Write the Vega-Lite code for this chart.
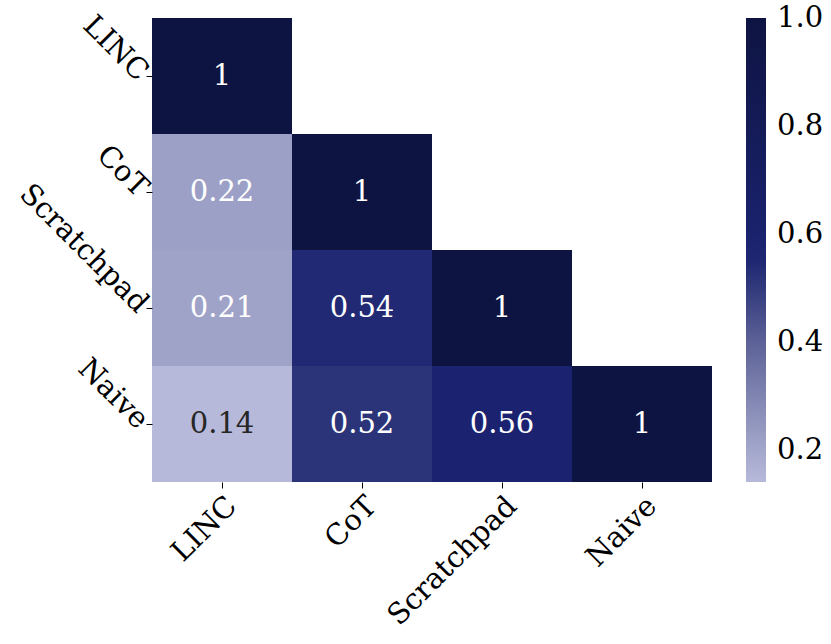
{
  "$schema": "https://vega.github.io/schema/vega-lite/v6.json",
  "width": 560,
  "height": 464,
  "autosize": "none",
  "padding": {"left": 152, "top": 18, "right": 119, "bottom": 162},
  "background": "white",
  "config": {
    "view": {"stroke": null},
    "font": "DejaVu Serif"
  },
  "data": {
    "values": [
      {"row": "LINC", "col": "LINC", "value": 1.0},
      {"row": "CoT", "col": "LINC", "value": 0.22},
      {"row": "CoT", "col": "CoT", "value": 1.0},
      {"row": "Scratchpad", "col": "LINC", "value": 0.21},
      {"row": "Scratchpad", "col": "CoT", "value": 0.544},
      {"row": "Scratchpad", "col": "Scratchpad", "value": 1.0},
      {"row": "Naive", "col": "LINC", "value": 0.14},
      {"row": "Naive", "col": "CoT", "value": 0.516},
      {"row": "Naive", "col": "Scratchpad", "value": 0.56},
      {"row": "Naive", "col": "Naive", "value": 1.0}
    ]
  },
  "encoding": {
    "x": {
      "field": "col", "type": "nominal",
      "sort": ["LINC", "CoT", "Scratchpad", "Naive"],
      "scale": {"paddingInner": 0, "paddingOuter": 0},
      "axis": {
        "title": null, "domain": false, "tickSize": 6, "tickColor": "#000",
        "labelFontSize": 29, "labelColor": "#000", "labelAngle": -45,
        "labelAlign": "right", "labelBaseline": "top", "labelPadding": 3, "labelFont": "DejaVu Serif"
      }
    },
    "y": {
      "field": "row", "type": "nominal",
      "sort": ["LINC", "CoT", "Scratchpad", "Naive"],
      "scale": {"paddingInner": 0, "paddingOuter": 0},
      "axis": {
        "title": null, "domain": false, "tickSize": 6, "tickColor": "#000",
        "labelFontSize": 29, "labelColor": "#000", "labelAngle": 45,
        "labelAlign": "right", "labelBaseline": "middle", "labelPadding": 3, "labelFont": "DejaVu Serif"
      }
    }
  },
  "layer": [
    {
      "mark": {"type": "rect"},
      "encoding": {
        "color": {
          "field": "value", "type": "quantitative",
          "scale": {
            "domain": [0.14, 0.22, 0.4, 0.52, 0.56, 1.0],
            "range": ["#b6b9d9", "#9ca0c6", "#5c6197", "#2a3278", "#1b2371", "#0e1442"],
            "interpolate": "rgb"
          },
          "legend": {
            "title": null, "type": "gradient", "direction": "vertical",
            "gradientLength": 464, "gradientThickness": 20, "gradientStrokeWidth": 0,
            "values": [0.2, 0.4, 0.6, 0.8, 1.0], "format": ".1f",
            "labelFontSize": 29, "labelColor": "#000", "labelFont": "DejaVu Serif",
            "labelOverlap": false,
            "labelOffset": 11, "offset": 34, "padding": 0,
            "encode": {"labels": {"update": {"baseline": {"value": "middle"}, "dy": {"value": 0}}}}
          }
        }
      }
    },
    {
      "mark": {"type": "text", "fontSize": 29, "font": "DejaVu Serif"},
      "encoding": {
        "text": {"field": "value", "type": "quantitative", "format": ".2~f"},
        "color": {
          "condition": {"test": "datum.value < 0.18", "value": "#262626"},
          "value": "#ffffff"
        }
      }
    }
  ]
}
